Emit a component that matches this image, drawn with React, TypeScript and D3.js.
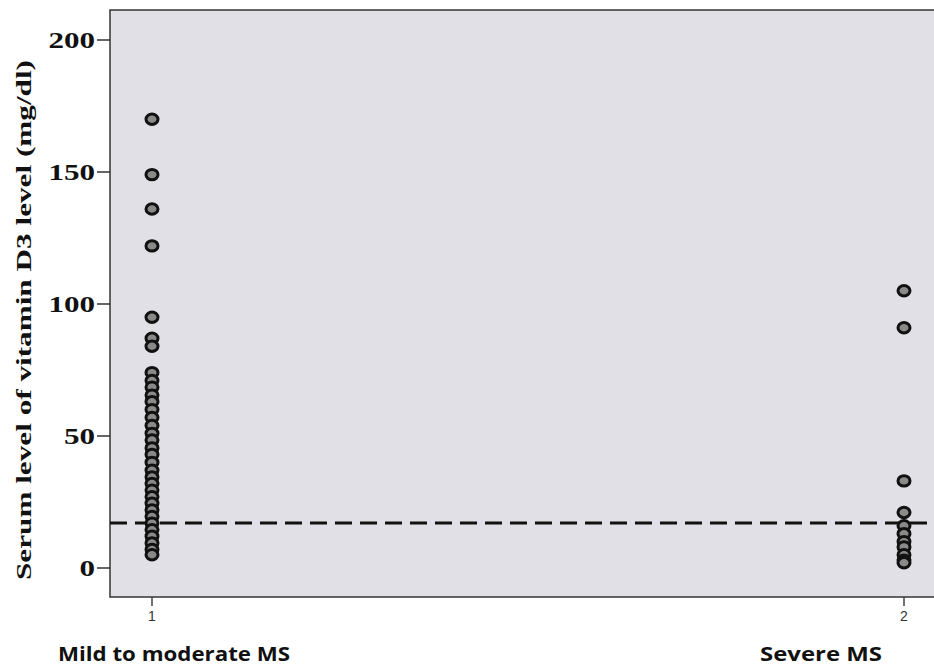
import React from "react";
import * as d3 from "d3";

const groups = [1, 2];
const groupLabels = ["Mild to moderate MS", "Severe MS"];
const mildValues = [170, 149, 136, 122, 95, 87, 84, 74, 71, 68.5, 65.5, 63, 60, 57, 54, 51, 48.5, 45.5, 43, 40, 37, 34.5, 32, 29.5, 27, 24.5, 22, 19.5, 17, 14.5, 12, 9.5, 7, 5];
const severeValues = [105, 91, 33, 21, 16, 13, 10, 8, 5, 3, 2];
const yTicks = [0, 50, 100, 150, 200];
const cutoff = 17;
const yTitle = "Serum level of vitamin D3 level (mg/dl)";

export default function App() {
  const W = 934, H = 666;
  const left = 110, top = 10, bottom = 597, right = 934;
  const y = d3.scaleLinear().domain([0, 200]).range([568, 40]);
  const x = d3.scaleLinear().domain([1, 2]).range([152, 904]);
  const pts: { g: number; v: number }[] = [
    ...mildValues.map((v) => ({ g: 1, v })),
    ...severeValues.map((v) => ({ g: 2, v })),
  ];
  return (
    <svg width={W} height={H} style={{ position: "absolute", left: 0, top: 0, background: "#fff" }}>
      <rect x={left} y={top} width={right - left + 2} height={bottom - top} fill="#e1e0e6" stroke="#333" strokeWidth={1.5} />
      {yTicks.map((t) => (
        <g key={t}>
          <line x1={left - 13} x2={left} y1={y(t)} y2={y(t)} stroke="#333" strokeWidth={1.5} />
          <text x={left - 15} y={y(t)} dy="0.35em" textAnchor="end" fontFamily="'Liberation Serif', serif" fontWeight="bold" fontSize={24}
            textLength={String(t).length * 15.5} lengthAdjust="spacingAndGlyphs" fill="#111">{t}</text>
        </g>
      ))}
      <text transform={`translate(31,${320}) rotate(-90)`} textAnchor="middle" fontFamily="'Liberation Serif', serif" fontWeight="bold" fontSize={22}
        textLength={520} lengthAdjust="spacingAndGlyphs" fill="#111">{yTitle}</text>
      {groups.map((g) => (
        <g key={g}>
          <line x1={x(g)} x2={x(g)} y1={bottom} y2={bottom + 9} stroke="#444" strokeWidth={1.5} />
          <text x={x(g)} y={621} textAnchor="middle" fontFamily="'Liberation Sans', sans-serif" fontSize={14} fill="#333">{g}</text>
        </g>
      ))}
      <text x={58} y={661} fontFamily="'Open Sans', sans-serif" fontWeight="bold" fontSize={20} textLength={232} lengthAdjust="spacingAndGlyphs" fill="#111">{groupLabels[0]}</text>
      <text x={760} y={661} fontFamily="'Open Sans', sans-serif" fontWeight="bold" fontSize={20} textLength={122} lengthAdjust="spacingAndGlyphs" fill="#111">{groupLabels[1]}</text>
      <line x1={left} x2={right} y1={y(cutoff)} y2={y(cutoff)} stroke="#111" strokeWidth={3} strokeDasharray="17,8" />
      {pts.map((p, i) => (
        <ellipse key={i} cx={x(p.g)} cy={y(p.v)} rx={6} ry={5.2} fill="#8a8a8a" stroke="#111" strokeWidth={3} />
      ))}
    </svg>
  );
}
